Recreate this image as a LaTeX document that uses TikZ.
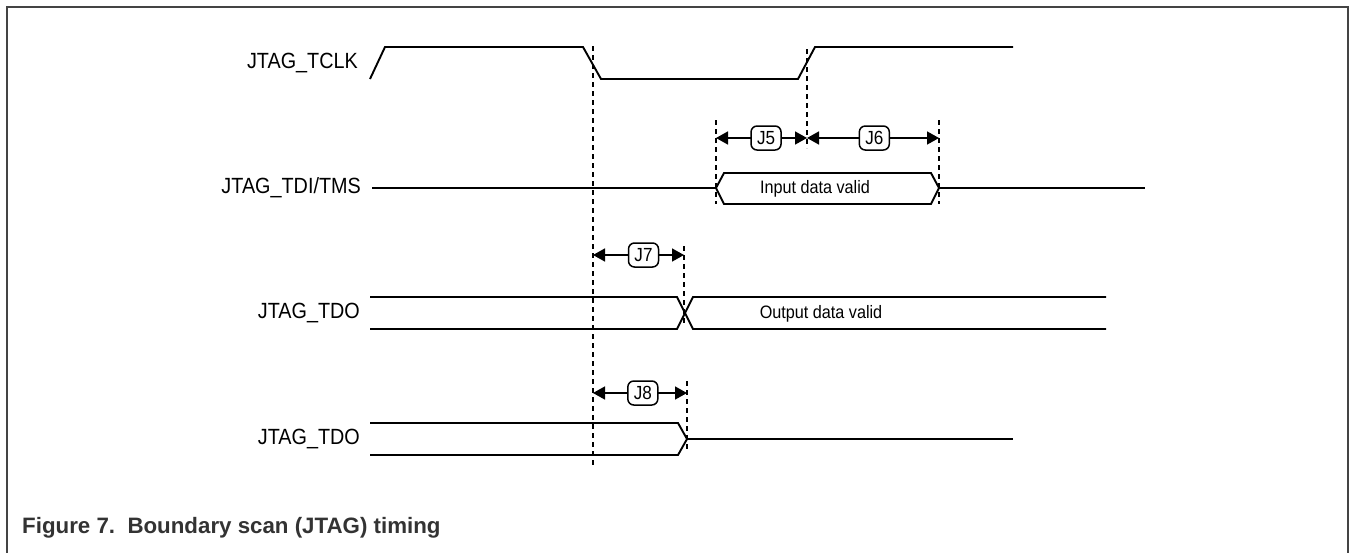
\documentclass[tikz,border=0pt]{standalone}
\usepackage{fontspec}
\setmainfont{Liberation Sans}
\newfontfamily\lblfont[FakeStretch=0.9]{Liberation Sans}
\newfontfamily\innerfont[FakeStretch=0.9]{Liberation Sans}
\usetikzlibrary{arrows.meta}
\definecolor{framegray}{HTML}{444444}
\definecolor{capgray}{HTML}{333333}
\tikzset{
  sig/.style={line width=1.9pt, line join=miter},
  guide/.style={line width=1.7pt, dash pattern=on 5pt off 4pt},
  siglabel/.style={anchor=east, inner sep=0pt, font=\lblfont\fontsize{22}{26}\selectfont},
  busText/.style={inner sep=0pt, font=\innerfont\fontsize{18}{21}\selectfont},
  jbox/.style={draw, line width=1.5pt, rounded corners=6pt, fill=white, minimum width=30pt,
               minimum height=24pt, inner sep=1pt, font=\innerfont\fontsize{19}{21}\selectfont},
  timing/.style={line width=1.6pt, {Triangle[length=12pt,width=13pt]}-{Triangle[length=12pt,width=13pt]}},
}
\begin{document}
\begin{tikzpicture}[x=1pt,y=-1pt]
\useasboundingbox (0,0) rectangle (1354,552);
% frame
\draw[framegray, line width=1.5pt] (7,560) -- (7,7) -- (1348,7) -- (1348,560);

% labels
\node[siglabel] (lclk) at (358,63) {JTAG\_TCLK};
\node[siglabel] (ltdi) at (361,188) {JTAG\_TDI/TMS};
\node[siglabel] (ltdo1) at (360,313) {JTAG\_TDO};
\node[siglabel] (ltdo2) at (360,439) {JTAG\_TDO};

% clock
\draw[sig] (370,79) -- (385,47) -- (583,47) -- (601,79) -- (798,79) -- (815,47) -- (1013,47);

% TDI/TMS
\draw[sig] (372,188) -- (716,188);
\draw[sig] (716,188) -- (724,173) -- (931,173) -- (939,188) -- (931,204) -- (724,204) -- cycle;
\draw[sig] (939,188) -- (1145,188);
\node[busText] (tin) at (815,189) {Input data valid};

% TDO 1
\draw[sig] (370,297) -- (677,297) -- (693,329) -- (1106,329);
\draw[sig] (370,329) -- (677,329) -- (693,297) -- (1106,297);
\node[busText] (tout) at (821,314) {Output data valid};

% TDO 2
\draw[sig] (370,423) -- (678,423) -- (687,439) -- (678,455) -- (370,455);
\draw[sig] (687,439) -- (1013,439);

% guide lines
\draw[guide] (593,46) -- (593,466);
\draw[guide] (807,49) -- (807,148);
\draw[guide] (716,120) -- (716,204);
\draw[guide] (939,120) -- (939,204);
\draw[guide] (684,246) -- (684,326);
\draw[guide] (687,381) -- (687,452);

% timing arrows
\coordinate (j5a) at (716,138);
\coordinate (j5b) at (807,138);
\coordinate (j6b) at (939,138);
\coordinate (j7a) at (593,255);
\coordinate (j7b) at (684,255);
\coordinate (j8a) at (593,393);
\coordinate (j8b) at (687,393);
\draw[timing] (j5a) -- node[jbox, pos=0.55] (J5) {J5} (j5b);
\draw[timing] (j5b) -- node[jbox, pos=0.51] (J6) {J6} (j6b);
\draw[timing] (j7a) -- node[jbox, pos=0.555] (J7) {J7} (j7b);
\draw[timing] (j8a) -- node[jbox, pos=0.53] (J8) {J8} (j8b);

% caption
\node[anchor=base west, inner sep=0pt, text=capgray, font=\bfseries\fontsize{22.3}{27}\selectfont] (cap) at (22,533) {Figure 7.\ \ Boundary scan (JTAG) timing};
\end{tikzpicture}
\end{document}
